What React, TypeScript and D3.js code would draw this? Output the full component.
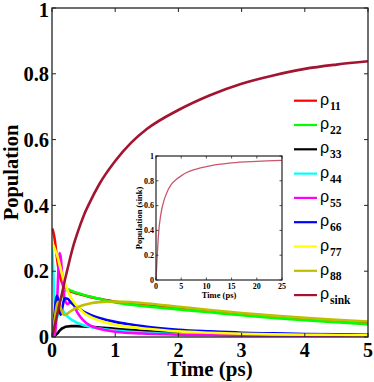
import React from "react";
import * as d3 from "d3";

const T = [0, 0.02, 0.04, 0.06, 0.08, 0.1, 0.12, 0.14, 0.16, 0.18, 0.2, 0.25, 0.3, 0.35, 0.4, 0.5, 0.6, 0.75, 1, 1.25, 1.5, 2, 2.5, 3, 3.5, 4, 4.5, 5];
const rho11 = [0.33, 0.32, 0.3, 0.27, 0.24, 0.21, 0.19, 0.175, 0.165, 0.157, 0.15, 0.142, 0.138, 0.135, 0.132, 0.127, 0.122, 0.116, 0.107, 0.101, 0.096, 0.087, 0.078, 0.069, 0.061, 0.054, 0.048, 0.042];
const rho22 = [0, 0.02, 0.04, 0.06, 0.08, 0.095, 0.107, 0.117, 0.125, 0.132, 0.138, 0.145, 0.141, 0.137, 0.134, 0.128, 0.123, 0.116, 0.105, 0.098, 0.093, 0.084, 0.075, 0.066, 0.058, 0.051, 0.045, 0.039];
const rho33 = [0, 0.002, 0.004, 0.006, 0.01, 0.014, 0.019, 0.023, 0.026, 0.028, 0.03, 0.032, 0.033, 0.033, 0.033, 0.032, 0.031, 0.029, 0.025, 0.021, 0.018, 0.012, 0.009, 0.007, 0.005, 0.004, 0.0035, 0.003];
const rho44 = [0.275, 0.2, 0.11, 0.07, 0.06, 0.07, 0.08, 0.085, 0.083, 0.078, 0.073, 0.062, 0.054, 0.048, 0.043, 0.036, 0.031, 0.026, 0.02, 0.016, 0.013, 0.009, 0.007, 0.006, 0.005, 0.004, 0.004, 0.004];
const rho55 = [0, 0, 0.005, 0.03, 0.1, 0.2, 0.255, 0.24, 0.19, 0.145, 0.115, 0.1, 0.108, 0.095, 0.075, 0.05, 0.035, 0.025, 0.016, 0.012, 0.01, 0.007, 0.006, 0.005, 0.005, 0.004, 0.004, 0.004];
const rho66 = [0, 0.03, 0.07, 0.11, 0.125, 0.11, 0.08, 0.068, 0.085, 0.105, 0.118, 0.116, 0.105, 0.097, 0.09, 0.077, 0.068, 0.058, 0.046, 0.038, 0.031, 0.022, 0.017, 0.013, 0.011, 0.009, 0.008, 0.007];
const rho77 = [0.29, 0.28, 0.27, 0.26, 0.25, 0.235, 0.22, 0.205, 0.19, 0.175, 0.165, 0.14, 0.12, 0.105, 0.093, 0.074, 0.062, 0.05, 0.037, 0.03, 0.025, 0.017, 0.013, 0.01, 0.008, 0.007, 0.006, 0.005];
const rho88 = [0, 0.02, 0.05, 0.08, 0.1, 0.107, 0.1, 0.088, 0.076, 0.069, 0.067, 0.072, 0.079, 0.085, 0.09, 0.097, 0.102, 0.106, 0.108, 0.106, 0.102, 0.092, 0.082, 0.073, 0.065, 0.058, 0.052, 0.047];
const rhoSink = [0, 0.016, 0.032, 0.049, 0.066, 0.083, 0.1, 0.117, 0.134, 0.152, 0.17, 0.21, 0.25, 0.285, 0.315, 0.368, 0.41, 0.465, 0.535, 0.59, 0.632, 0.69, 0.735, 0.77, 0.795, 0.815, 0.828, 0.838];

const insetT = [0, 0.25, 0.5, 1, 1.5, 2, 3, 4, 5, 6, 8, 10, 12, 15, 20, 25];
const insetSink = [0, 0.2, 0.37, 0.54, 0.63, 0.69, 0.77, 0.81, 0.84, 0.865, 0.895, 0.915, 0.93, 0.945, 0.957, 0.965];

const legendSubs = ["11", "22", "33", "44", "55", "66", "77", "88", "sink"];
const colors = ["#ff0000", "#00ff00", "#000000", "#00ffff", "#ff00ff", "#0000ff", "#ffff00", "#bfbf00", "#a2142f"];
const xTicks = [0, 1, 2, 3, 4, 5];
const yTicks = [0, 0.2, 0.4, 0.6, 0.8, 1];
const insetXTicks = [0, 5, 10, 15, 20, 25];
const insetYTicks = [0, 0.2, 0.4, 0.6, 0.8, 1];

const series = [rho11, rho22, rho33, rho44, rho55, rho66, rho77, rho88, rhoSink];

export default function App() {
  const W = 374, H = 382;
  const x = d3.scaleLinear().domain([0, 5]).range([52, 368]);
  const y = d3.scaleLinear().domain([0, 1]).range([337, 8]);
  const xi = d3.scaleLinear().domain([0, 25]).range([156, 282]);
  const yi = d3.scaleLinear().domain([0, 1]).range([280, 156]);

  const line = (vals: number[]) =>
    d3.line<number>().x((_, i) => x(T[i])).y((d) => y(d)).curve(d3.curveMonotoneX)(vals) || "";
  const insetLine =
    d3.line<number>().x((_, i) => xi(insetT[i])).y((d) => yi(d)).curve(d3.curveMonotoneX)(insetSink) || "";

  const serif = "'Liberation Serif', 'Times New Roman', serif";
  const fmt = (v: number) => (v === 0 ? "0" : v === 1 ? "1" : String(v));

  return (
    <svg width={W} height={H} style={{ position: "absolute", left: 0, top: 0, background: "#fff" }}>
      <defs>
        <clipPath id="plotclip">
          <rect x={52} y={8} width={316} height={329} />
        </clipPath>
      </defs>
      <rect x={0} y={0} width={W} height={H} fill="#fff" />
      <g clipPath="url(#plotclip)">
        {series.map((s, i) => (
          <path key={i} d={line(s)} fill="none" stroke={colors[i]} strokeWidth={2.6} strokeLinejoin="round" />
        ))}
      </g>
      <rect x={52} y={8} width={316} height={329} fill="none" stroke="#222" strokeWidth={1.3} />
      {xTicks.map((t) => (
        <g key={"xt" + t}>
          <line x1={x(t)} x2={x(t)} y1={337} y2={333} stroke="#222" strokeWidth={1} />
          <line x1={x(t)} x2={x(t)} y1={8} y2={12} stroke="#222" strokeWidth={1} />
          <text x={x(t)} y={357} textAnchor="middle" fontFamily={serif} fontWeight="bold" fontSize={20}>
            {t}
          </text>
        </g>
      ))}
      {yTicks.map((t) => (
        <g key={"yt" + t}>
          <line x1={52} x2={56} y1={y(t)} y2={y(t)} stroke="#222" strokeWidth={1} />
          <line x1={368} x2={364} y1={y(t)} y2={y(t)} stroke="#222" strokeWidth={1} />
          <text x={49} y={y(t)} dy={t === 1 ? "0.45em" : "0.35em"} textAnchor="end" fontFamily={serif} fontWeight="bold" fontSize={20.5}>
            {fmt(t)}
          </text>
        </g>
      ))}
      <text x={210} y={376} textAnchor="middle" fontFamily={serif} fontWeight="bold" fontSize={21}>
        Time (ps)
      </text>
      <text
        transform={`translate(18,${(8 + 337) / 2}) rotate(-90)`}
        textAnchor="middle"
        fontFamily={serif}
        fontWeight="bold"
        fontSize={20.5}
      >
        Population
      </text>

      {legendSubs.map((s, i) => {
        const ly = 100.7 + i * 24.3;
        return (
          <g key={"lg" + s}>
            <line x1={294} x2={317} y1={ly} y2={ly} stroke={colors[i]} strokeWidth={2.2} />
            <text x={320} y={ly + 4} fontFamily="'Liberation Sans', Arial, sans-serif" fontSize={16}>
              ρ
            </text>
            <text x={330} y={ly + 9} fontFamily={serif} fontWeight="bold" fontSize={11.5}>
              {s}
            </text>
          </g>
        );
      })}

      <rect x={156} y={156} width={126} height={124} fill="#fff" />
      <path d={insetLine} fill="none" stroke="#c9566e" strokeWidth={1.3} />
      <rect x={156} y={156} width={126} height={124} fill="none" stroke="#222" strokeWidth={1.2} />
      {insetXTicks.map((t) => (
        <g key={"ixt" + t}>
          <line x1={xi(t)} x2={xi(t)} y1={280} y2={277.5} stroke="#222" strokeWidth={0.8} />
          <line x1={xi(t)} x2={xi(t)} y1={156} y2={158.5} stroke="#222" strokeWidth={0.8} />
          <text x={xi(t)} y={289} textAnchor="middle" fontFamily={serif} fontWeight="bold" fontSize={8}>
            {t}
          </text>
        </g>
      ))}
      {insetYTicks.map((t) => (
        <g key={"iyt" + t}>
          <line x1={156} x2={158.5} y1={yi(t)} y2={yi(t)} stroke="#222" strokeWidth={0.8} />
          <line x1={282} x2={279.5} y1={yi(t)} y2={yi(t)} stroke="#222" strokeWidth={0.8} />
          <text x={154} y={yi(t)} dy="0.35em" textAnchor="end" fontFamily={serif} fontWeight="bold" fontSize={8}>
            {fmt(t)}
          </text>
        </g>
      ))}
      <text x={219} y={298} textAnchor="middle" fontFamily={serif} fontWeight="bold" fontSize={8.5}>
        Time (ps)
      </text>
      <text
        transform={`translate(142,218) rotate(-90)`}
        textAnchor="middle"
        fontFamily={serif}
        fontWeight="bold"
        fontSize={8.5}
      >
        Population (sink)
      </text>
    </svg>
  );
}
